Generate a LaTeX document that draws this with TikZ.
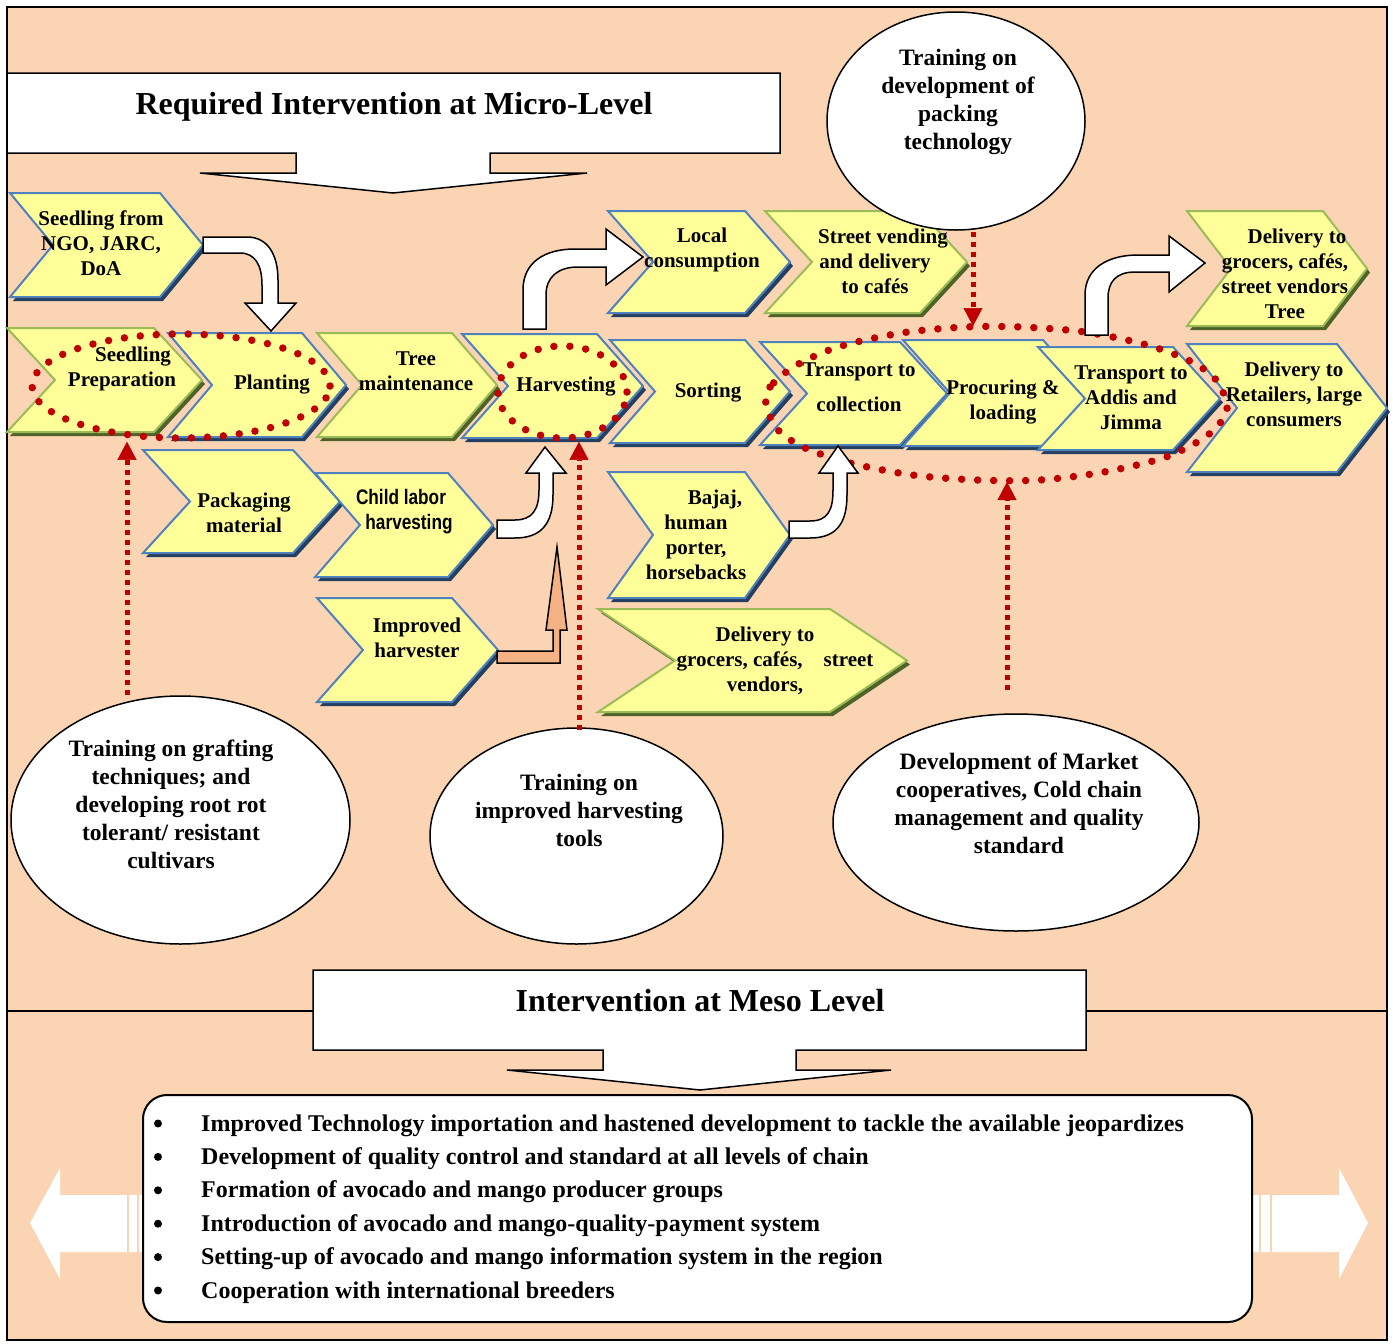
\documentclass[tikz,border=0pt]{standalone}
\usepackage{fontspec}
\setmainfont{Liberation Serif}
\newfontfamily\narrowsans[FakeStretch=0.82]{Liberation Sans}
\usetikzlibrary{shapes.geometric,arrows.meta}
\definecolor{peach}{HTML}{FBD4B4}
\definecolor{chevfill}{HTML}{FFFF99}
\definecolor{chevblue}{HTML}{4F81BD}
\definecolor{shblue}{HTML}{243F60}
\definecolor{chevgreen}{HTML}{9BBB59}
\definecolor{shgreen}{HTML}{4F6228}
\definecolor{dotred}{HTML}{C00000}
\definecolor{peachdark}{HTML}{F4B183}
\newcommand\chev[7]{%
  \fill[#7,shift={(3,4)}] (#1,#3) -- ({#2-#5},#3) -- (#2,{(#3+#4)/2}) -- ({#2-#5},#4) -- (#1,#4) -- ({#1+#5},{(#3+#4)/2}) -- cycle;
  \filldraw[fill=chevfill,draw=#6,line width=2pt,line join=miter] (#1,#3) -- ({#2-#5},#3) -- (#2,{(#3+#4)/2}) -- ({#2-#5},#4) -- (#1,#4) -- ({#1+#5},{(#3+#4)/2}) -- cycle;
}
\begin{document}
\begin{tikzpicture}[x=1pt,y=-1pt,
  chevtext/.style={font=\fontsize{21}{25}\selectfont\bfseries, align=center, inner sep=0pt, yshift=-2.5pt},
  elltext/.style={font=\fontsize{23.5}{28}\selectfont\bfseries, align=center, inner sep=0pt, yshift=-2pt},
  titletext/.style={font=\fontsize{32}{38}\selectfont\bfseries, inner sep=0pt},
  bulletline/.style={font=\fontsize{24}{28}\selectfont\bfseries, inner sep=0pt, anchor=base west},
  bubble/.style={ellipse, draw=black, line width=1.5pt, fill=white, inner sep=0pt},
  reddots/.style={draw=dotred, line width=7.5pt, line cap=round, dash pattern=on 0pt off 16pt},
  redarr/.style={draw=dotred, line width=5pt, dash pattern=on 5pt off 5pt, -{Triangle[length=18pt,width=19pt,line width=0.5pt]}},
  banner/.style={draw=black, fill=white, line width=1.5pt, line join=miter},
  blockarr/.style={draw=black, fill=white, line width=1.5pt, line join=miter},
  ]
\useasboundingbox (0,0) rectangle (1393,1344);
\fill[white] (0,0) rectangle (1393,1344);
\draw[line width=1.5pt, fill=peach] (7,7) rectangle (1387,1340);
\draw[line width=2pt] (7,1011) -- (1387,1011);

% top banner
\draw[banner] (7,73) -- (780,73) -- (780,153) -- (490,153) -- (490,173) -- (587,173) -- (393,193) -- (200,173) -- (296,173) -- (296,153) -- (7,153) -- cycle;
\node[titletext] (micro) at (394,107) {Required Intervention at Micro-Level};

% chevrons
\chev{10}{203}{193}{297}{43}{chevblue}{shblue}
\chev{7}{202}{328}{432}{48}{chevgreen}{shgreen}
\chev{168}{346}{333}{437}{44}{chevblue}{shblue}
\chev{317}{497}{333}{437}{45}{chevgreen}{shgreen}
\chev{462}{643}{334}{438}{46}{chevblue}{shblue}
\chev{610}{790}{340}{443}{45}{chevblue}{shblue}
\chev{760}{947}{342}{445}{47}{chevblue}{shblue}
\chev{903}{1090}{340}{446}{47}{chevblue}{shblue}
\chev{1038}{1220}{347}{450}{47}{chevblue}{shblue}
\chev{1187}{1387}{344}{472}{50}{chevblue}{shblue}
\chev{608}{790}{211}{313}{45}{chevblue}{shblue}
\chev{765}{967}{211}{313}{47}{chevgreen}{shgreen}
\chev{1187}{1367}{211}{326}{44}{chevgreen}{shgreen}
\chev{143}{340}{450}{553}{47}{chevblue}{shblue}
\chev{315}{493}{473}{577}{45}{chevblue}{shblue}
\chev{317}{498}{598}{702}{46}{chevblue}{shblue}
\chev{608}{790}{472}{598}{45}{chevblue}{shblue}
\chev{598}{907}{609}{712}{77}{chevgreen}{shgreen}

% chevron texts
\node[chevtext] (seedfrom) at (101,241) {Seedling from\\NGO, JARC,\\DoA};
\node[chevtext] (sprep) at (122,366) {\hspace*{22pt}Seedling\\Preparation};
\node[chevtext] (plant) at (272,382) {Planting};
\node[chevtext] (tree) at (416,369) {Tree\\maintenance};
\node[chevtext] (harv) at (566,384) {Harvesting};
\node[chevtext] (sort) at (708,390) {Sorting};
\node[chevtext] (tcoll) at (859,385) {Transport to\\[10pt]collection};
\node[chevtext] (proc) at (1003,400) {Procuring \&\\loading};
\node[chevtext] (taddis) at (1131,395) {Transport to\\Addis and\\Jimma};
\node[chevtext] (dretail) at (1294,392) {Delivery to\\Retailers, large\\consumers};
\node[chevtext] (local) at (702,247) {Local\\consumption};
\node[chevtext] (street) at (875,259) {\hspace*{16pt}Street vending\\and delivery\\to cafés};
\node[chevtext] (dgrocer) at (1285,271) {\hspace*{24pt}Delivery to\\grocers, cafés,\\street vendors\\Tree};
\node[chevtext] (pack) at (244,510) {Packaging\\material};
\node[chevtext, font=\fontsize{21}{25}\selectfont\narrowsans\bfseries] (child) at (401,509) {Child labor\\\hspace*{16pt}harvesting};
\node[chevtext] (impr) at (417,635) {Improved\\harvester};
\node[chevtext] (bajaj) at (696,532) {\hspace*{38pt}Bajaj,\\human\\porter,\\horsebacks};
\node[chevtext] (dgroc2) at (765,658) {Delivery to\\\hspace*{20pt}grocers, cafés,\quad street\\vendors,};

% red dotted groupings
\node[reddots, ellipse, minimum width=298pt, minimum height=104pt, inner sep=0pt] (dz1) at (181,386) {};
\node[reddots, ellipse, minimum width=129pt, minimum height=92pt, inner sep=0pt] (dz2) at (562.5,392) {};
\draw[reddots] plot[smooth cycle] coordinates {(795,366) (770,387) (766,405) (778,430) (805,448) (850,463) (912,475) (977,480) (1040,480) (1104,472) (1166,457) (1208,435) (1227,410) (1217,381) (1192,362) (1147,345) (1085,332) (1021,327) (965,327) (901,333) (838,347)};
\coordinate (dz3bot) at (1007,482);
\coordinate (dz3top) at (973,326);

% block arrows
\draw[blockarr] (203,237) -- (247,237) .. controls (268,237) and (278,255) .. (278,280) -- (278,303) -- (296,303) -- (271,331) -- (245,303) -- (262,303) -- (262,285) .. controls (262,265) and (255,253) .. (240,253) -- (203,253) -- cycle;
\draw[blockarr] (523,329) -- (523,290) .. controls (523,262) and (545,249) .. (575,249) -- (606,249) -- (606,229) -- (643,257) -- (606,285) -- (606,267) -- (578,267) .. controls (558,267) and (546,277) .. (546,295) -- (546,329) -- cycle;
\draw[blockarr] (1085,335) -- (1085,295) .. controls (1085,268) and (1108,255) .. (1138,255) -- (1169,255) -- (1169,236) -- (1205,263) -- (1169,292) -- (1169,272) -- (1135,272) .. controls (1116,272) and (1108,282) .. (1108,298) -- (1108,335) -- cycle;
\draw[blockarr] (497,520) -- (515,520) .. controls (532,520) and (539,510) .. (539,490) -- (539,473) -- (526,473) -- (545,447) -- (566,473) -- (553,473) -- (553,495) .. controls (553,525) and (540,538) .. (515,538) -- (497,538) -- cycle;
\draw[blockarr, fill=peachdark] (497,651) -- (553,651) -- (553,630) -- (546,630) -- (557,547) -- (567,630) -- (560,630) -- (560,663) -- (497,663) -- cycle;
\draw[blockarr] (789,521) -- (810,521) .. controls (828,521) and (833,510) .. (833,490) -- (833,473) -- (819,473) -- (838,446) -- (858,473) -- (847,473) -- (847,495) .. controls (847,525) and (835,538) .. (810,538) -- (789,538) -- cycle;

% bubbles
\node[bubble, minimum width=258pt, minimum height=218pt] (bpack) at (956,121) {};
\node[elltext] (tpack) at (958,100) {Training on\\development of\\packing\\technology};
\node[bubble, minimum width=339pt, minimum height=248pt] (bgraft) at (180.5,820) {};
\node[elltext] (tgraft) at (171,802) {Training on grafting\\techniques; and\\developing root rot\\tolerant/ resistant\\cultivars};
\node[bubble, minimum width=293pt, minimum height=216pt] (bharv) at (576.5,836) {};
\node[elltext] (tharv) at (579,808) {Training on\\improved harvesting\\tools};
\node[bubble, minimum width=366pt, minimum height=217pt] (bmkt) at (1016,822.5) {};
\node[elltext] (tmkt) at (1019,801) {Development of Market\\cooperatives, Cold chain\\management and quality\\standard};

% red dashed arrows
\coordinate (a1) at (127,695);
\coordinate (a2) at (579,730);
\coordinate (a3) at (1007,690);
\coordinate (a4) at (973,232);
\draw[redarr] (a1) -- (a1 |- dz1.south);
\draw[redarr] (a2) -- (a2 |- dz2.south);
\draw[redarr] (a3) -- (dz3bot);
\draw[redarr] (a4) -- (dz3top);

% meso banner
\draw[banner] (313,970) -- (1086,970) -- (1086,1050) -- (796,1050) -- (796,1070) -- (891,1070) -- (700,1090) -- (507,1070) -- (603,1070) -- (603,1050) -- (313,1050) -- cycle;
\node[titletext] (meso) at (700,1001) {Intervention at Meso Level};

% side arrows
\fill[white] (143,1195) -- (60,1195) -- (60,1168) -- (30,1223) -- (60,1279) -- (60,1252) -- (143,1252) -- cycle;
\draw[peach, line width=1.5pt] (128,1195) -- (128,1252) (138,1195) -- (138,1252);
\fill[white] (1252,1195) -- (1339,1195) -- (1339,1168) -- (1368,1223) -- (1339,1279) -- (1339,1252) -- (1252,1252) -- cycle;
\draw[peach, line width=1.5pt] (1260,1195) -- (1260,1252) (1271,1195) -- (1271,1252);

% bottom box
\draw[line width=2pt, fill=white, rounded corners=24pt] (143,1095) rectangle (1252,1322);
\foreach \t [count=\i] in {Improved Technology importation and hastened development to tackle the available jeopardizes,
  Development of quality control and standard at all levels of chain,
  Formation of avocado and mango producer groups,
  Introduction of avocado and mango-quality-payment system,
  Setting-up of avocado and mango information system in the region,
  Cooperation with international breeders}
  {\node[bulletline] (b\i) at (201,{1131+(\i-1)*33.4}) {\t};
   \fill (158,{1123.5+(\i-1)*33.4}) circle (4);}
\end{tikzpicture}
\end{document}
